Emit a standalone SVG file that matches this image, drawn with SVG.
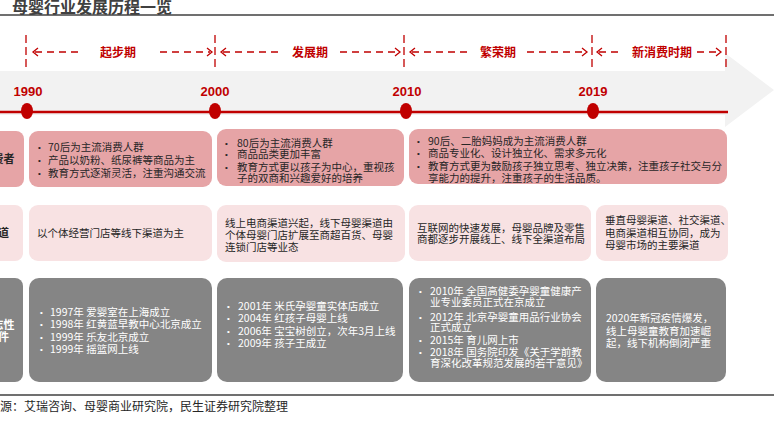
<svg xmlns="http://www.w3.org/2000/svg" width="774" height="425" viewBox="0 0 774 425">
<defs>
<style>
text{font-family:"Noto Sans CJK SC","Liberation Sans",sans-serif;}
.title{font-size:16px;font-weight:bold;fill:#404040;}
.phase{font-size:12px;font-weight:bold;fill:#C00000;text-anchor:middle;}
.year{font-family:"Liberation Sans","Noto Sans CJK SC",sans-serif;font-size:13px;font-weight:bold;fill:#C00000;text-anchor:middle;}
.t{font-size:10.5px;fill:#262626;}
.w{font-size:10.5px;fill:#ffffff;}
.bul{font-family:"Liberation Sans",sans-serif;font-size:8px;}
.lab{font-size:11px;font-weight:bold;fill:#262626;text-anchor:middle;}
.labw{font-size:11px;font-weight:bold;fill:#ffffff;text-anchor:middle;}
.r1{fill:#E6A4A6;}
.r2{fill:#F8E2E3;}
.r3{fill:#858585;}
.vd{stroke:#C00000;stroke-width:1.3;stroke-dasharray:8 4;fill:none;}
.hd{stroke:#C00000;stroke-width:1.3;stroke-dasharray:7 5;fill:none;}
.ah{stroke:#C00000;stroke-width:1.3;fill:none;}
</style>
</defs>

<rect width="774" height="425" fill="#ffffff"/>
<text class="title" x="12" y="13">母婴行业发展历程一览</text>
<line x1="0" y1="15" x2="774" y2="15" stroke="#404040" stroke-width="1.5"/>

<!-- timeline band -->
<g id="timeline">
<path d="M0,71 H725 V53 L774,90 L725,127 V115 H0 Z" fill="#F2F2F2"/>
<line x1="0" y1="112" x2="728" y2="112" stroke="#C00000" stroke-width="2.5"/>
<ellipse cx="27" cy="111" rx="6" ry="8" fill="#C00000"/>
<ellipse cx="215" cy="111" rx="6" ry="8" fill="#C00000"/>
<ellipse cx="406" cy="111" rx="6" ry="8" fill="#C00000"/>
<ellipse cx="593" cy="111" rx="6" ry="8" fill="#C00000"/>
<text class="year" x="28" y="96">1990</text>
<text class="year" x="215" y="96">2000</text>
<text class="year" x="407" y="96">2010</text>
<text class="year" x="593" y="96">2019</text>
</g>

<!-- phase connectors -->
<g id="connectors">
<line class="vd" x1="26" y1="35" x2="26" y2="67"/>
<line class="vd" x1="215" y1="35" x2="215" y2="67"/>
<line class="vd" x1="404" y1="35" x2="404" y2="67"/>
<line class="vd" x1="592" y1="35" x2="592" y2="67"/>
<line class="vd" x1="726" y1="35" x2="726" y2="69"/>

<line class="hd" x1="35" y1="52" x2="80" y2="52"/>
<path class="ah" d="M38,48 L33,52 L38,56"/>
<line class="hd" x1="160" y1="52" x2="210" y2="52"/>
<path class="ah" d="M207,48 L212,52 L207,56"/>

<line class="hd" x1="223" y1="52" x2="278" y2="52"/>
<path class="ah" d="M226,48 L221,52 L226,56"/>
<line class="hd" x1="340" y1="52" x2="398" y2="52"/>
<path class="ah" d="M395,48 L400,52 L395,56"/>

<line class="hd" x1="412" y1="52" x2="468" y2="52"/>
<path class="ah" d="M415,48 L410,52 L415,56"/>
<line class="hd" x1="527" y1="52" x2="585" y2="52"/>
<path class="ah" d="M582,48 L587,52 L582,56"/>

<line class="hd" x1="599" y1="52" x2="621" y2="52"/>
<path class="ah" d="M602,48 L597,52 L602,56"/>
<line class="hd" x1="697" y1="52" x2="719" y2="52"/>
<path class="ah" d="M716,48 L721,52 L716,56"/>
</g>

<g id="phases">
<text class="phase" x="118" y="57">起步期</text>
<text class="phase" x="310" y="57">发展期</text>
<text class="phase" x="498" y="57">繁荣期</text>
<text class="phase" x="662" y="57">新消费时期</text>
</g>

<!-- Row 1 consumers -->
<g id="label-consumer">
<rect class="r1" x="-20" y="131" width="44" height="56" rx="8"/>
<text class="lab" x="-2" y="163">消费者</text>
</g>
<g id="consumer-1990">
<rect class="r1" x="29" y="131" width="183" height="56" rx="9"/>
<text class="t" x="48" y="151">70后为主流消费人群</text>
<text class="t" x="48" y="164">产品以奶粉、纸尿裤等商品为主</text>
<text class="t" x="48" y="177">教育方式逐渐灵活，注重沟通交流</text>
<text class="t bul" x="38" y="150">•</text>
<text class="t bul" x="38" y="163">•</text>
<text class="t bul" x="38" y="176">•</text>
</g>
<g id="consumer-2000">
<rect class="r1" x="217" y="129" width="187" height="57" rx="9"/>
<text class="t" x="237" y="146.5">80后为主流消费人群</text>
<text class="t" x="237" y="158">商品品类更加丰富</text>
<text class="t" x="237" y="170.5">教育方式更以孩子为中心，重视孩</text>
<text class="t" x="237" y="182">子的双商和兴趣爱好的培养</text>
<text class="t bul" x="225" y="145.5">•</text>
<text class="t bul" x="225" y="157">•</text>
<text class="t bul" x="225" y="169.5">•</text>
</g>
<g id="consumer-2010">
<rect class="r1" x="409" y="129" width="318" height="55" rx="9"/>
<text class="t" x="428" y="145">90后、二胎妈妈成为主流消费人群</text>
<text class="t" x="428" y="157">商品专业化、设计独立化、需求多元化</text>
<text class="t" x="428" y="170">教育方式更为鼓励孩子独立思考、独立决策，注重孩子社交与分</text>
<text class="t" x="428" y="182">享能力的提升，注重孩子的生活品质。</text>
<text class="t bul" x="417" y="144">•</text>
<text class="t bul" x="417" y="156">•</text>
<text class="t bul" x="417" y="169">•</text>
</g>

<!-- Row 2 channels -->
<g id="label-channel">
<rect class="r2" x="-20" y="205" width="43" height="56" rx="8"/>
<text class="lab" x="-2" y="237">渠道</text>
</g>
<g id="channel-1990">
<rect class="r2" x="29" y="205" width="183" height="56" rx="9"/>
<text class="t" x="37" y="237">以个体经营门店等线下渠道为主</text>
</g>
<g id="channel-2000">
<rect class="r2" x="217" y="205" width="188" height="57" rx="9"/>
<text class="t" x="225" y="227">线上电商渠道兴起，线下母婴渠道由</text>
<text class="t" x="225" y="238.5">个体母婴门店扩展至商超百货、母婴</text>
<text class="t" x="225" y="250.5">连锁门店等业态</text>
</g>
<g id="channel-2010">
<rect class="r2" x="409" y="205" width="182" height="56" rx="9"/>
<text class="t" x="417" y="231.5">互联网的快速发展，母婴品牌及零售</text>
<text class="t" x="417" y="242.5">商都逐步开展线上、线下全渠道布局</text>
</g>
<g id="channel-2019">
<rect class="r2" x="596" y="205" width="132" height="56" rx="9"/>
<text class="t" x="605" y="224">垂直母婴渠道、社交渠道、</text>
<text class="t" x="605" y="236.5">电商渠道相互协同，成为</text>
<text class="t" x="605" y="249">母婴市场的主要渠道</text>
</g>

<!-- Row 3 events -->
<g id="label-event">
<rect class="r3" x="-20" y="278" width="43" height="104" rx="8"/>
<text class="labw" x="-2" y="329">标志性</text>
<text class="labw" x="-2" y="341">事件</text>
</g>
<g id="event-1990">
<rect class="r3" x="29" y="278" width="183" height="104" rx="10"/>
<text class="w" x="50" y="316">1997年 爱婴室在上海成立</text>
<text class="w" x="50" y="328">1998年 红黄蓝早教中心北京成立</text>
<text class="w" x="50" y="340.5">1999年 乐友北京成立</text>
<text class="w" x="50" y="353">1999年 摇篮网上线</text>
<text class="w bul" x="40" y="315">•</text>
<text class="w bul" x="40" y="327">•</text>
<text class="w bul" x="40" y="339.5">•</text>
<text class="w bul" x="40" y="352">•</text>
</g>
<g id="event-2000">
<rect class="r3" x="217" y="278" width="186" height="104" rx="10"/>
<text class="w" x="238" y="309.5">2001年 米氏孕婴童实体店成立</text>
<text class="w" x="238" y="321.5">2004年 红孩子母婴上线</text>
<text class="w" x="238" y="334.5">2006年 宝宝树创立，次年3月上线</text>
<text class="w" x="238" y="346.5">2009年 孩子王成立</text>
<text class="w bul" x="227" y="308.5">•</text>
<text class="w bul" x="227" y="320.5">•</text>
<text class="w bul" x="227" y="333.5">•</text>
<text class="w bul" x="227" y="345.5">•</text>
</g>
<g id="event-2010">
<rect class="r3" x="409" y="278" width="182" height="104" rx="10"/>
<text class="w" x="430" y="294.5">2010年 全国高健委孕婴童健康产</text>
<text class="w" x="430" y="305.5">业专业委员正式在京成立</text>
<text class="w" x="430" y="320.5">2012年 北京孕婴童用品行业协会</text>
<text class="w" x="430" y="331">正式成立</text>
<text class="w" x="430" y="344">2015年 育儿网上市</text>
<text class="w" x="430" y="355.5">2018年 国务院印发《关于学前教</text>
<text class="w" x="430" y="367">育深化改革规范发展的若干意见》</text>
<text class="w bul" x="419" y="293.5">•</text>
<text class="w bul" x="419" y="319.5">•</text>
<text class="w bul" x="419" y="343">•</text>
<text class="w bul" x="419" y="354.5">•</text>
</g>
<g id="event-2019">
<rect class="r3" x="596" y="278" width="130" height="104" rx="10"/>
<text class="w" x="606" y="322">2020年新冠疫情爆发，</text>
<text class="w" x="606" y="335">线上母婴童教育加速崛</text>
<text class="w" x="606" y="346.5">起，线下机构倒闭严重</text>
</g>

<line x1="0" y1="395" x2="774" y2="395" stroke="#404040" stroke-width="1.5"/>
<text x="-36" y="411" font-size="12" fill="#262626">资料来源：艾瑞咨询、母婴商业研究院，民生证券研究院整理</text>
</svg>
